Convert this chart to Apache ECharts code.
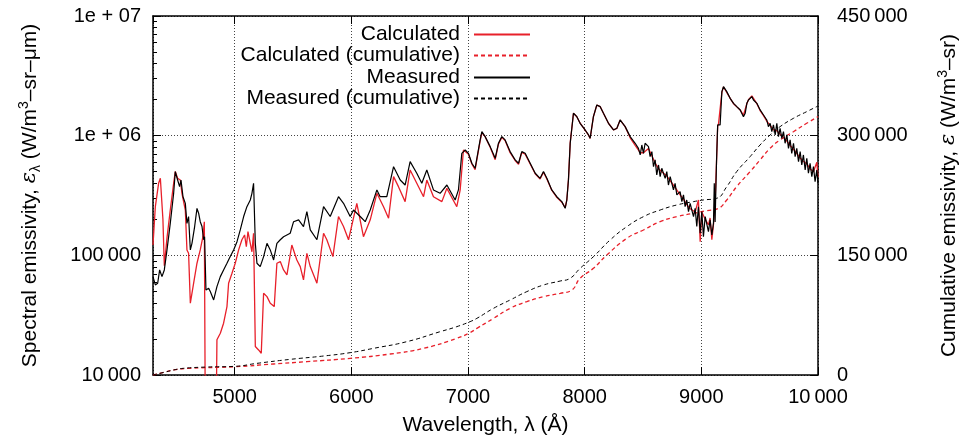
<!DOCTYPE html>
<html>
<head>
<meta charset="UTF-8">
<title>Spectral emissivity</title>
<script src="https://cdn.jsdelivr.net/npm/echarts@6/dist/echarts.min.js"></script>
<style>
  html, body { margin: 0; padding: 0; background: #fff; }
  #chart { width: 959px; height: 443px; }
</style>
</head>
<body>
<div id="chart"></div>
<script>
// wavelength (A) / value pairs
var calcSpec = [
  [4300,122000],[4320,255000],[4348,400000],[4363,440000],[4385,200000],[4397,82000],[4420,140000],
  [4448,239000],[4477,400000],[4491,501000],[4511,440000],[4534,426000],[4548,330000],[4577,239000],
  [4591,111000],[4605,104000],[4620,39800],[4648,58400],[4677,85900],[4705,111000],[4728,143000],
  [4740,191000],[4748,5000],[4842,5000],[4848,19700],[4877,22300],[4905,27100],[4934,37300],
  [4948,58400],[4977,70800],[5005,85900],[5034,111000],[5062,135000],[5085,148000],[5100,118000],
  [5114,158000],[5134,126000],[5148,107000],[5162,153000],[5177,17300],[5205,16200],[5228,15200],
  [5248,48200],[5277,45200],[5305,39800],[5339,37300],[5362,85900],[5391,88700],[5419,75500],
  [5448,68600],[5490,122000],[5533,91500],[5562,80500],[5590,62300],[5619,104000],[5648,80500],
  [5705,58400],[5762,153000],[5790,135000],[5842,97600],[5890,211000],[5933,174000],[5976,135000],
  [6047,272000],[6104,143000],[6162,198000],[6219,330000],[6276,255000],[6319,204000],[6362,455000],
  [6404,375000],[6461,281000],[6504,517000],[6561,400000],[6619,309000],[6647,426000],[6704,309000],
  [6776,281000],[6819,363000],[6904,255000],[6933,352000],[6961,759000],[6976,759000],[7004,700000],
  [7033,580000],[7061,520000],[7076,540000],[7104,900000],[7119,1060000],[7147,980000],[7190,800000],
  [7233,630000],[7261,850000],[7290,970000],[7318,910000],[7361,720000],[7404,620000],[7433,575000],
  [7461,725000],[7490,700000],[7533,580000],[7576,480000],[7618,435000],[7647,495000],[7676,435000],
  [7718,350000],[7761,305000],[7804,278000],[7833,250000],[7847,290000],[7861,430000],[7876,870000],
  [7904,1540000],[7933,1440000],[7961,1270000],[8004,1110000],[8033,1010000],[8047,950000],
  [8075,1440000],[8104,1800000],[8133,1750000],[8161,1540000],[8204,1270000],[8247,1120000],
  [8276,1150000],[8304,1350000],[8318,1400000],[8347,1190000],[8390,960000],[8433,830000],
  [8476,720000],[8504,720000],[8547,780000],[8576,680000],[8604,590000],[8633,530000],[8661,500000],
  [8704,460000],[8733,420000],[8775,370000],[8818,320000],[8847,295000],[8875,265000],[8904,245000],
  [8947,230000],[8975,290000],[8990,130000],[9004,230000],[9033,200000],[9061,180000],[9075,205000],
  [9090,135000],[9104,180000],[9118,280000],[9130,600000],[9140,1200000],[9147,1250000],
  [9161,1230000],[9176,2300000],[9190,2550000],[9218,2300000],[9247,2050000],[9276,1850000],
  [9304,1740000],[9333,1640000],[9361,1480000],[9390,1850000],[9404,2000000],[9433,2150000],
  [9476,1850000],[9504,1620000],[9533,1470000],[9561,1320000],[9590,1220000],[9618,1120000],
  [9647,1100000],[9675,1030000],[9704,970000],[9733,900000],[9761,830000],[9790,770000],
  [9818,710000],[9847,650000],[9875,610000],[9904,580000],[9932,530000],[9961,500000],
  [9990,600000],[10000,450000]
];

var measSpec = [
  [4300,66400],[4320,56600],[4340,58400],[4357,75500],[4377,66400],[4397,75500],[4420,111000],
  [4448,185000],[4477,330000],[4491,501000],[4511,426000],[4528,375000],[4540,426000],[4557,309000],
  [4577,272000],[4591,185000],[4605,211000],[4620,111000],[4634,126000],[4657,174000],[4677,247000],
  [4691,225000],[4705,191000],[4720,174000],[4734,135000],[4742,143000],[4754,51400],[4777,53100],
  [4791,49800],[4820,42400],[4848,54800],[4877,66400],[4905,75500],[4934,85900],[4962,97600],
  [4991,111000],[5020,130000],[5048,163000],[5077,211000],[5105,255000],[5134,290000],[5148,330000],
  [5162,400000],[5177,126000],[5191,85900],[5219,80500],[5248,97600],[5277,126000],[5305,111000],
  [5334,91500],[5362,126000],[5391,135000],[5419,143000],[5476,153000],[5505,191000],[5548,198000],
  [5590,174000],[5619,232000],[5648,163000],[5705,135000],[5762,255000],[5819,211000],[5890,309000],
  [5933,272000],[5990,211000],[6019,239000],[6076,211000],[6119,191000],[6162,239000],[6219,352000],
  [6247,309000],[6304,309000],[6362,551000],[6419,426000],[6461,387000],[6504,607000],[6561,485000],
  [6604,400000],[6647,517000],[6704,352000],[6761,330000],[6819,387000],[6890,290000],[6918,352000],
  [6947,712000],[6976,759000],[7004,712000],[7033,588000],[7061,534000],[7076,551000],[7104,921000],
  [7119,1081000],[7147,982000],[7190,810000],[7233,647000],[7261,864000],[7290,982000],[7318,921000],
  [7361,736000],[7404,627000],[7433,588000],[7461,736000],[7490,712000],[7533,588000],[7576,485000],
  [7618,440000],[7647,501000],[7676,440000],[7718,352000],[7761,309000],[7804,281000],[7833,247000],
  [7847,290000],[7861,426000],[7876,864000],[7904,1538000],[7933,1442000],[7961,1269000],
  [8004,1116000],[8033,1014000],[8047,951000],[8075,1442000],[8104,1805000],[8133,1748000],
  [8161,1538000],[8204,1269000],[8247,1116000],[8276,1152000],[8304,1353000],[8318,1397000],
  [8347,1190000],[8390,982000],[8433,864000],[8461,784000],[8476,690000],[8490,836000],[8504,712000],
  [8518,864000],[8547,810000],[8561,668000],[8576,736000],[8590,551000],[8604,627000],[8618,470000],
  [8633,569000],[8647,455000],[8661,534000],[8690,440000],[8704,501000],[8718,387000],[8733,455000],
  [8761,352000],[8775,400000],[8790,320000],[8818,341000],[8833,281000],[8847,320000],[8861,255000],
  [8875,290000],[8890,232000],[8904,272000],[8933,211000],[8947,247000],[8961,174000],[8975,255000],
  [8990,153000],[9004,232000],[9018,143000],[9033,211000],[9061,158000],[9075,198000],[9090,148000],
  [9104,185000],[9111,400000],[9118,190000],[9130,600000],[9140,1230000],[9147,1269000],
  [9161,1229000],[9176,2333000],[9190,2569000],[9204,2487000],[9218,2333000],[9233,2259000],
  [9247,2052000],[9261,2119000],[9276,1864000],[9290,1925000],[9304,1748000],[9318,1805000],
  [9333,1640000],[9347,1693000],[9361,1442000],[9376,1538000],[9390,1864000],[9404,1988000],
  [9418,1925000],[9433,2119000],[9447,1988000],[9476,1864000],[9504,1640000],[9533,1489000],
  [9561,1353000],[9575,1190000],[9590,1269000],[9604,1081000],[9618,1229000],[9633,1014000],
  [9647,1269000],[9661,982000],[9675,1152000],[9690,951000],[9704,1081000],[9718,864000],
  [9733,1014000],[9747,784000],[9761,921000],[9775,712000],[9790,864000],[9804,668000],
  [9818,784000],[9833,607000],[9847,736000],[9861,569000],[9875,690000],[9890,517000],
  [9904,647000],[9918,485000],[9932,588000],[9947,455000],[9961,551000],[9975,413000],
  [9990,517000],[10000,400000]
];

var calcCum = [
  [4300,0],[4400,3500],[4477,6300],[4619,8400],[5005,10400],[5333,13800],[5619,16700],[5990,20900],
  [6333,26300],[6619,33400],[6904,46000],[7018,53100],[7076,58500],[7219,71000],[7361,83600],
  [7504,91900],[7647,98200],[7790,102400],[7890,106500],[7961,121200],[8075,133700],[8190,150400],
  [8361,171300],[8504,181800],[8647,192200],[8789,198500],[8932,202600],[9046,206000],[9146,208900],
  [9218,219400],[9303,236100],[9418,254900],[9503,269500],[9589,284100],[9675,294600],[9789,305000],
  [9903,315500],[10000,323800]
];

var measCum = [
  [4300,0],[4400,3500],[4477,6300],[4562,8400],[4762,10000],[5005,10900],[5191,14600],[5476,19600],
  [5762,23800],[5990,28000],[6190,33400],[6476,41800],[6761,54300],[6904,60600],[7018,66900],
  [7076,71000],[7219,83600],[7361,94000],[7504,104500],[7647,112800],[7790,117800],[7875,121200],
  [7961,133700],[8075,148300],[8218,169200],[8361,185900],[8504,198500],[8647,206800],[8789,213100],
  [8932,217300],[9018,219400],[9132,221500],[9218,236100],[9303,254900],[9418,273700],[9503,288300],
  [9589,300800],[9675,311300],[9789,321700],[9903,330100],[10000,337200]
];

var seriesNames = ['Calculated', 'Calculated (cumulative)', 'Measured', 'Measured (cumulative)'];
var logMinorTicks = [];
[10000, 100000, 1000000].forEach(function (d) {
  for (var k = 2; k <= 9; k++) logMinorTicks.push(k * d);
});

var FONT = 'Liberation Sans';
var RED = '#e8202a';

function thin(v) {
  var s = String(v);
  if (s.length <= 4) return s;
  return s.slice(0, s.length - 3) + '\u2009' + s.slice(s.length - 3);
}

var chart = echarts.init(document.getElementById('chart'));

var gridLine = { show: true, lineStyle: { color: '#444', width: 1, type: [1, 2] } };
var boxLine = { show: true, lineStyle: { color: '#000', width: 1.5 } };

var legendTops = [19, 40, 62, 83];
var legends = seriesNames.map(function (n, i) {
  return {
    data: [n],
    right: 423,
    top: legendTops[i],
    align: 'right',
    itemWidth: 56,
    itemHeight: 14,
    selectedMode: false,
    itemStyle: { opacity: 0, color: 'rgba(0,0,0,0)', borderWidth: 0 },
    textStyle: { fontSize: 21, color: '#000', fontFamily: FONT, padding: [0, 9, 0, 0] }
  };
});

var option = {
  animation: false,
  backgroundColor: '#fff',
  textStyle: { fontFamily: FONT },
  legend: legends,
  grid: { left: 153, right: 141, top: 16, bottom: 68, containLabel: false, outerBoundsMode: 'none' },
  xAxis: [{
    type: 'value', min: 4300, max: 10000, splitNumber: 6,
    name: 'Wavelength, \u03bb (\u00c5)', nameLocation: 'middle', nameGap: 40,
    nameTextStyle: { fontSize: 21, color: '#000', fontFamily: FONT },
    axisLine: boxLine,
    axisTick: { inside: true, length: 8, lineStyle: { color: '#000' } },
    axisLabel: { fontSize: 20, color: '#000', fontFamily: FONT, margin: 12, showMinLabel: false,
      formatter: function (v) { return thin(v); } },
    splitLine: gridLine
  }, {
    type: 'value', min: 4300, max: 10000, splitNumber: 6, position: 'top',
    axisLine: boxLine,
    axisTick: { inside: true, length: 8, lineStyle: { color: '#000' } },
    axisLabel: { show: false },
    splitLine: { show: false }
  }],
  yAxis: [{
    type: 'log', logBase: 10, min: 10000, max: 10000000,
    name: 'Spectral emissivity, {i|\u03b5}{sub|\u03bb} (W/m{sup|3}\u2013sr\u2013\u03bcm)',
    nameLocation: 'middle', nameGap: 110,
    nameTextStyle: { fontSize: 21, color: '#000', fontFamily: FONT, lineHeight: 26,
      rich: {
        i: { fontSize: 21, fontStyle: 'italic', fontFamily: 'DejaVu Serif', lineHeight: 26 },
        sub: { fontSize: 14, verticalAlign: 'bottom', lineHeight: 26 },
        sup: { fontSize: 14, verticalAlign: 'top', lineHeight: 26 }
      } },
    axisLine: boxLine,
    axisTick: { inside: true, length: 8, lineStyle: { color: '#000' } },
    axisLabel: { fontSize: 20, color: '#000', fontFamily: FONT, margin: 12,
      formatter: function (v) {
        if (v >= 10000000) return '1e + 07';
        if (v >= 1000000) return '1e + 06';
        return thin(Math.round(v));
      } },
    splitLine: gridLine
  }, {
    type: 'value', min: 0, max: 450000, interval: 150000, position: 'right',
    name: 'Cumulative emissivity, {i|\u03b5} (W/m{sup|3}\u2013sr)',
    nameLocation: 'middle', nameGap: 118, nameRotate: 90,
    nameTextStyle: { fontSize: 21, color: '#000', fontFamily: FONT, lineHeight: 26,
      rich: {
        i: { fontSize: 21, fontStyle: 'italic', fontFamily: 'DejaVu Serif', lineHeight: 26 },
        sup: { fontSize: 14, verticalAlign: 'top', lineHeight: 26 }
      } },
    axisLine: boxLine,
    axisTick: { inside: true, length: 8, lineStyle: { color: '#000' } },
    axisLabel: { fontSize: 20, color: '#000', fontFamily: FONT, margin: 19,
      formatter: function (v) { return thin(v); } },
    splitLine: { show: false }
  }, {
    type: 'log', logBase: 10, min: 10000, max: 10000000, position: 'left',
    axisLine: { show: false },
    axisTick: { inside: true, length: 4, customValues: logMinorTicks, lineStyle: { color: '#000' } },
    axisLabel: { show: false },
    splitLine: { show: false }
  }],
  series: [{
    name: seriesNames[0], type: 'line', data: calcSpec, yAxisIndex: 0,
    showSymbol: false, symbol: 'none', clip: true,
    lineStyle: { color: RED, width: 1.3 }, itemStyle: { color: RED }
  }, {
    name: seriesNames[1], type: 'line', data: calcCum, yAxisIndex: 1, smooth: true,
    showSymbol: false, symbol: 'none',
    lineStyle: { color: RED, width: 1.3, type: [4, 3] }, itemStyle: { color: RED }
  }, {
    name: seriesNames[2], type: 'line', data: measSpec, yAxisIndex: 0,
    showSymbol: false, symbol: 'none', clip: true,
    lineStyle: { color: '#000', width: 1.2 }, itemStyle: { color: '#000' }
  }, {
    name: seriesNames[3], type: 'line', data: measCum, yAxisIndex: 1, smooth: true,
    showSymbol: false, symbol: 'none',
    lineStyle: { color: '#000', width: 1, type: [4, 3] }, itemStyle: { color: '#000' }
  }]
};
chart.setOption(option);
</script>
</body>
</html>
